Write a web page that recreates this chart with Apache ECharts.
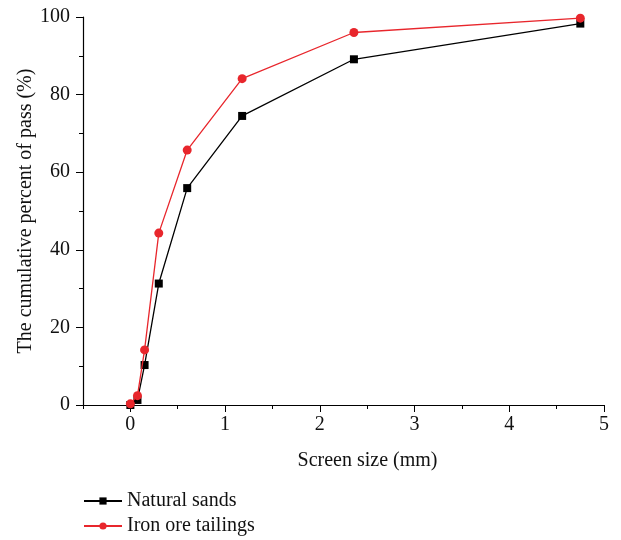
<!DOCTYPE html>
<html>
<head>
    <meta charset="utf-8">
    <title>Screen size</title>
    <script src="https://cdn.jsdelivr.net/npm/echarts@6/dist/echarts.min.js"></script>
    <style>
        html, body { margin: 0; padding: 0; background: #fff; }
        #chart { width: 621px; height: 540px; }
    </style>
</head>
<body>
    <div id="chart"></div>
    <script type="text/javascript">
        // sieve sizes (mm)
        var sizes = [0, 0.075, 0.15, 0.3, 0.6, 1.18, 2.36, 4.75];
        var naturalSands = [0, 1.3, 10.3, 31.3, 55.9, 74.5, 89.1, 98.3];
        var ironTailings = [0.3, 2.4, 14.2, 44.3, 65.7, 84.1, 96.0, 99.7];
        var xTicks = [0, 1, 2, 3, 4, 5];

        var font = 'Liberation Serif';

        function pairs(ys) {
            var out = [];
            for (var i = 0; i < sizes.length; i++) {
                out.push([sizes[i], ys[i]]);
            }
            return out;
        }

        var chart = echarts.init(document.getElementById('chart'));

        var option = {
            animation: false,
            grid: { left: 83, right: 17, top: 17, bottom: 135 },
            legend: {
                orient: 'vertical',
                left: 83,
                top: 491,
                padding: 0,
                itemWidth: 38,
                itemHeight: 9,
                itemGap: 5,
                textStyle: { fontFamily: font, fontSize: 20, color: '#111' },
                data: ['Natural sands', 'Iron ore tailings']
            },
            xAxis: [
                {
                    type: 'value',
                    min: -0.5,
                    max: 5,
                    name: 'Screen size (mm)',
                    nameLocation: 'middle',
                    nameGap: 46,
                    nameTextStyle: { fontFamily: font, fontSize: 20, color: '#111', padding: [0, 0, 0, 48] },
                    axisLine: { lineStyle: { color: '#000', width: 1.2 } },
                    axisTick: { customValues: xTicks, length: 7, lineStyle: { color: '#000' } },
                    axisLabel: { customValues: xTicks, fontFamily: font, fontSize: 20, color: '#111', margin: 10 },
                    splitLine: { show: false }
                },
                {
                    type: 'value',
                    min: -0.5,
                    max: 5,
                    interval: 0.5,
                    position: 'bottom',
                    axisLine: { show: false },
                    axisTick: { length: 4, lineStyle: { color: '#000' } },
                    axisLabel: { show: false },
                    splitLine: { show: false }
                }
            ],
            yAxis: {
                type: 'value',
                min: 0,
                max: 100,
                interval: 20,
                name: 'The cumulative percent of pass (%)',
                nameLocation: 'middle',
                nameGap: 47,
                nameMoveOverlap: false,
                nameTextStyle: { fontFamily: font, fontSize: 20, color: '#111' },
                axisLine: { show: true, onZero: false, lineStyle: { color: '#000', width: 1.2 } },
                axisTick: { show: true, length: 7, lineStyle: { color: '#000' } },
                minorTick: { show: true, splitNumber: 2, length: 4, lineStyle: { color: '#000' } },
                axisLabel: { fontFamily: font, fontSize: 20, color: '#111', margin: 13 },
                splitLine: { show: false }
            },
            series: [
                {
                    name: 'Natural sands',
                    type: 'line',
                    data: pairs(naturalSands),
                    symbol: 'rect',
                    symbolSize: 8,
                    itemStyle: { color: '#000' },
                    lineStyle: { color: '#000', width: 1.3 },
                    z: 2
                },
                {
                    name: 'Iron ore tailings',
                    type: 'line',
                    data: pairs(ironTailings),
                    symbol: 'circle',
                    symbolSize: 9,
                    itemStyle: { color: '#e8262c' },
                    lineStyle: { color: '#e8262c', width: 1.3 },
                    z: 3
                }
            ]
        };

        chart.setOption(option);
    </script>
</body>
</html>
